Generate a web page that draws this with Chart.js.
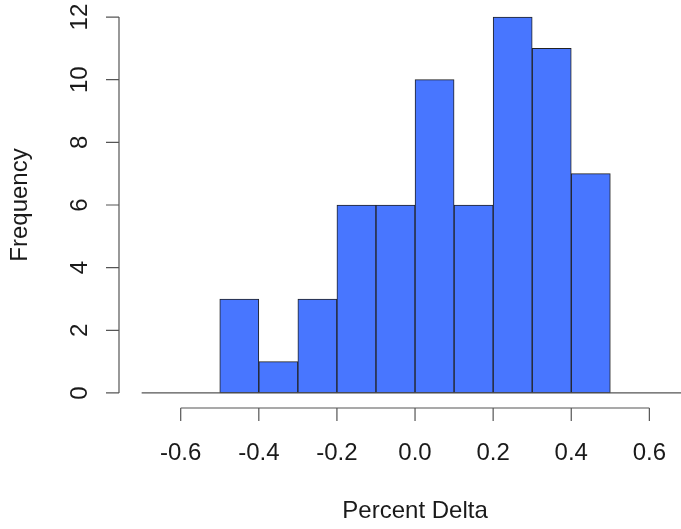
<!DOCTYPE html>
<html>
<head>
<meta charset="utf-8">
<script src="https://cdn.jsdelivr.net/npm/chart.js@4.4.1/dist/chart.umd.min.js"></script>
<style>
  html, body { margin: 0; padding: 0; background: #fff; }
  #wrap { width: 681px; height: 529px; }
</style>
</head>
<body>
<div id="wrap"><canvas id="hist"></canvas></div>
<script>
/* histogram data */
var binEdges = [-0.7, -0.6, -0.5, -0.4, -0.3, -0.2, -0.1, 0.0, 0.1, 0.2, 0.3, 0.4, 0.5, 0.6, 0.7];
var counts   = [0, 0, 3, 1, 3, 6, 6, 10, 6, 12, 11, 7, 0, 0];
var xTicks   = [-0.6, -0.4, -0.2, 0.0, 0.2, 0.4, 0.6];
var xTickLabels = ['-0.6', '-0.4', '-0.2', '0.0', '0.2', '0.4', '0.6'];
var yTicks   = [0, 2, 4, 6, 8, 10, 12];
var xTitle = 'Percent Delta';
var yTitle = 'Frequency';

var font = '24px "Liberation Sans", Arial, sans-serif';
var textColor = '#1a1a1a';
var axisColor = '#555';

var points = [];
for (var i = 0; i < counts.length; i++) {
  points.push({ x: (binEdges[i] + binEdges[i + 1]) / 2, y: counts[i] });
}

/* R style axes, drawn off the chart's own scales */
var rAxes = {
  id: 'rAxes',
  afterDatasetsDraw: function(chart) {
    var ctx = chart.ctx;
    var xs = chart.scales.x;
    var ys = chart.scales.y;
    var area = chart.chartArea;
    var y0 = ys.getPixelForValue(0);

    ctx.save();
    ctx.strokeStyle = axisColor;
    ctx.lineWidth = 1.2;

    // baseline under the bins
    ctx.beginPath();
    ctx.moveTo(xs.getPixelForValue(binEdges[0]), y0);
    ctx.lineTo(xs.getPixelForValue(binEdges[binEdges.length - 1]), y0);
    ctx.stroke();

    // y axis
    var ax = area.left;
    ctx.beginPath();
    ctx.moveTo(ax, ys.getPixelForValue(yTicks[0]));
    ctx.lineTo(ax, ys.getPixelForValue(yTicks[yTicks.length - 1]));
    for (var i = 0; i < yTicks.length; i++) {
      var py = ys.getPixelForValue(yTicks[i]);
      ctx.moveTo(ax, py);
      ctx.lineTo(ax - 13, py);
    }
    ctx.stroke();

    // x axis
    var ay = area.bottom;
    ctx.beginPath();
    ctx.moveTo(xs.getPixelForValue(xTicks[0]), ay);
    ctx.lineTo(xs.getPixelForValue(xTicks[xTicks.length - 1]), ay);
    for (var j = 0; j < xTicks.length; j++) {
      var px = xs.getPixelForValue(xTicks[j]);
      ctx.moveTo(px, ay);
      ctx.lineTo(px, ay + 13);
    }
    ctx.stroke();

    ctx.fillStyle = textColor;
    ctx.font = font;

    // x tick labels
    ctx.textAlign = 'center';
    ctx.textBaseline = 'alphabetic';
    for (var k = 0; k < xTicks.length; k++) {
      ctx.fillText(xTickLabels[k], xs.getPixelForValue(xTicks[k]), ay + 52);
    }

    // x title, centred on the plot region
    ctx.fillText(xTitle, xs.getPixelForValue((binEdges[0] + binEdges[binEdges.length - 1]) / 2), ay + 110);

    // y tick labels, rotated
    for (var m = 0; m < yTicks.length; m++) {
      ctx.save();
      ctx.translate(ax - 32, ys.getPixelForValue(yTicks[m]));
      ctx.rotate(-Math.PI / 2);
      ctx.fillText(String(yTicks[m]), 0, 0);
      ctx.restore();
    }

    // y title
    ctx.save();
    ctx.translate(27, ys.getPixelForValue((ys.min + ys.max) / 2));
    ctx.rotate(-Math.PI / 2);
    ctx.fillText(yTitle, 0, 0);
    ctx.restore();

    ctx.restore();
  }
};

var chart = new Chart(document.getElementById('hist'), {
  type: 'bar',
  data: {
    datasets: [{
      data: points,
      backgroundColor: '#4876FF',
      borderColor: '#222',
      borderWidth: 1,
      borderSkipped: false,
      barPercentage: 1,
      categoryPercentage: 1
    }]
  },
  options: {
    responsive: true,
    maintainAspectRatio: false,
    animation: false,
    layout: { padding: { left: 119, right: 0, top: 2, bottom: 121 } },
    plugins: { legend: { display: false }, tooltip: { enabled: false } },
    scales: {
      x: {
        type: 'linear',
        display: false,
        offset: false,
        min: -0.758,
        max: 0.681,
        afterBuildTicks: function(scale) {
          scale.ticks = xTicks.map(function(v) { return { value: v }; });
        }
      },
      y: {
        display: false,
        min: -0.48,
        max: 12.48
      }
    }
  },
  plugins: [rAxes]
});
</script>
</body>
</html>
